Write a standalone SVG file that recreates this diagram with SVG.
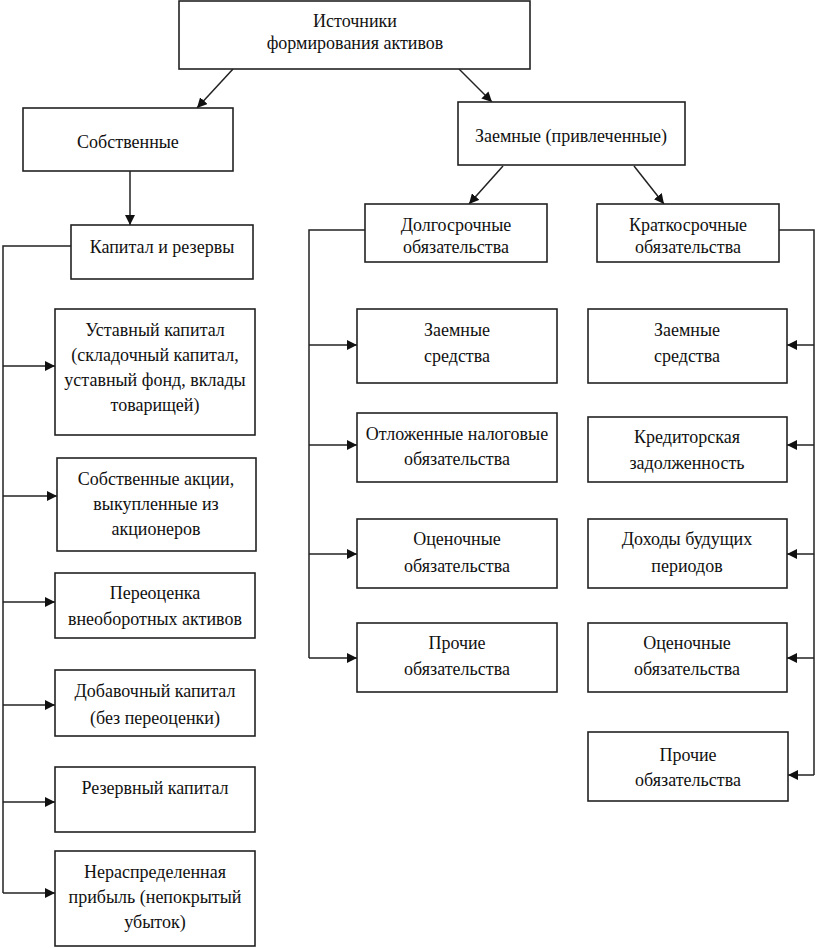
<svg xmlns="http://www.w3.org/2000/svg" width="817" height="948" viewBox="0 0 817 948">
<style>
.box{fill:#fff;stroke:#222;stroke-width:1.6}
text{font-family:'Liberation Serif','Times New Roman','DejaVu Serif',serif;font-size:18px;fill:#111;text-anchor:middle}
.c{fill:none;stroke:#222;stroke-width:1.5}
</style>
<defs>
<marker id="ah" viewBox="0 0 10 10" refX="10" refY="5" markerWidth="10" markerHeight="10" markerUnits="userSpaceOnUse" orient="auto">
<path d="M0,0 L10,5 L0,10 Z" fill="#111"/>
</marker>
</defs>
<rect width="817" height="948" fill="#fff"/>
<g id="connectors">
<line class="c" x1="233" y1="69" x2="197" y2="108" marker-end="url(#ah)"/>
<line class="c" x1="459" y1="69" x2="492" y2="102" marker-end="url(#ah)"/>
<line class="c" x1="130" y1="171" x2="130" y2="225" marker-end="url(#ah)"/>
<line class="c" x1="503" y1="166" x2="469" y2="204" marker-end="url(#ah)"/>
<line class="c" x1="634" y1="166" x2="664" y2="204" marker-end="url(#ah)"/>
<polyline class="c" points="71,246 3,246 3,893"/>
<line class="c" x1="3" y1="366" x2="55" y2="366" marker-end="url(#ah)"/>
<line class="c" x1="3" y1="496" x2="57" y2="496" marker-end="url(#ah)"/>
<line class="c" x1="3" y1="602" x2="55" y2="602" marker-end="url(#ah)"/>
<line class="c" x1="3" y1="705" x2="55" y2="705" marker-end="url(#ah)"/>
<line class="c" x1="3" y1="802" x2="55" y2="802" marker-end="url(#ah)"/>
<line class="c" x1="3" y1="893" x2="55" y2="893" marker-end="url(#ah)"/>
<polyline class="c" points="365,230 309,230 309,658"/>
<line class="c" x1="309" y1="345" x2="357" y2="345" marker-end="url(#ah)"/>
<line class="c" x1="309" y1="445" x2="357" y2="445" marker-end="url(#ah)"/>
<line class="c" x1="309" y1="554" x2="357" y2="554" marker-end="url(#ah)"/>
<line class="c" x1="309" y1="658" x2="357" y2="658" marker-end="url(#ah)"/>
<polyline class="c" points="779,230 814,230 814,775"/>
<line class="c" x1="814" y1="345" x2="787" y2="345" marker-end="url(#ah)"/>
<line class="c" x1="814" y1="445" x2="787" y2="445" marker-end="url(#ah)"/>
<line class="c" x1="814" y1="554" x2="787" y2="554" marker-end="url(#ah)"/>
<line class="c" x1="814" y1="658" x2="787" y2="658" marker-end="url(#ah)"/>
<line class="c" x1="814" y1="775" x2="788" y2="775" marker-end="url(#ah)"/>
</g>
<g id="root"><rect class="box" x="179" y="1" width="351" height="68"/><text x="355" y="27">Источники</text><text x="355" y="49">формирования активов</text></g>
<g id="own"><rect class="box" x="23" y="108" width="210" height="63"/><text x="128" y="148">Собственные</text></g>
<g id="borrowed"><rect class="box" x="458" y="102" width="227" height="63"/><text x="571" y="142">Заемные (привлеченные)</text></g>
<g id="capital"><rect class="box" x="71" y="225" width="182" height="54"/><text x="162" y="253">Капитал и резервы</text></g>
<g id="longterm"><rect class="box" x="365" y="204" width="182" height="58"/><text x="456" y="231">Долгосрочные</text><text x="456" y="253">обязательства</text></g>
<g id="shortterm"><rect class="box" x="597" y="204" width="182" height="58"/><text x="688" y="231">Краткосрочные</text><text x="688" y="253">обязательства</text></g>
<g id="ustav"><rect class="box" x="55" y="309" width="200" height="126"/><text x="155" y="336">Уставный капитал</text><text x="155" y="361">(складочный капитал,</text><text x="155" y="386">уставный фонд, вклады</text><text x="155" y="411">товарищей)</text></g>
<g id="shares"><rect class="box" x="57" y="458" width="199" height="93"/><text x="156" y="485">Собственные акции,</text><text x="156" y="510">выкупленные из</text><text x="156" y="535">акционеров</text></g>
<g id="revaluation"><rect class="box" x="55" y="573" width="200" height="65"/><text x="155" y="599">Переоценка</text><text x="155" y="625">внеоборотных активов</text></g>
<g id="additional"><rect class="box" x="55" y="670" width="200" height="66"/><text x="155" y="697">Добавочный капитал</text><text x="155" y="724">(без переоценки)</text></g>
<g id="reserve"><rect class="box" x="55" y="767" width="200" height="65"/><text x="155" y="794">Резервный капитал</text></g>
<g id="retained"><rect class="box" x="55" y="851" width="200" height="95"/><text x="155" y="878">Нераспределенная</text><text x="155" y="903">прибыль (непокрытый</text><text x="155" y="928">убыток)</text></g>
<g id="lt-loans"><rect class="box" x="357" y="309" width="200" height="74"/><text x="457" y="336">Заемные</text><text x="457" y="362">средства</text></g>
<g id="lt-deferred"><rect class="box" x="357" y="413" width="200" height="69"/><text x="457" y="440">Отложенные налоговые</text><text x="457" y="465">обязательства</text></g>
<g id="lt-estimated"><rect class="box" x="357" y="519" width="200" height="69"/><text x="457" y="545">Оценочные</text><text x="457" y="572">обязательства</text></g>
<g id="lt-other"><rect class="box" x="357" y="623" width="200" height="69"/><text x="457" y="649">Прочие</text><text x="457" y="675">обязательства</text></g>
<g id="st-loans"><rect class="box" x="588" y="309" width="199" height="74"/><text x="687" y="336">Заемные</text><text x="687" y="362">средства</text></g>
<g id="st-payables"><rect class="box" x="588" y="417" width="199" height="65"/><text x="687" y="443">Кредиторская</text><text x="687" y="469">задолженность</text></g>
<g id="st-deferred-income"><rect class="box" x="588" y="519" width="199" height="69"/><text x="687" y="545">Доходы будущих</text><text x="687" y="572">периодов</text></g>
<g id="st-estimated"><rect class="box" x="588" y="623" width="199" height="69"/><text x="687" y="649">Оценочные</text><text x="687" y="675">обязательства</text></g>
<g id="st-other"><rect class="box" x="588" y="732" width="200" height="69"/><text x="688" y="761">Прочие</text><text x="688" y="786">обязательства</text></g>
</svg>
